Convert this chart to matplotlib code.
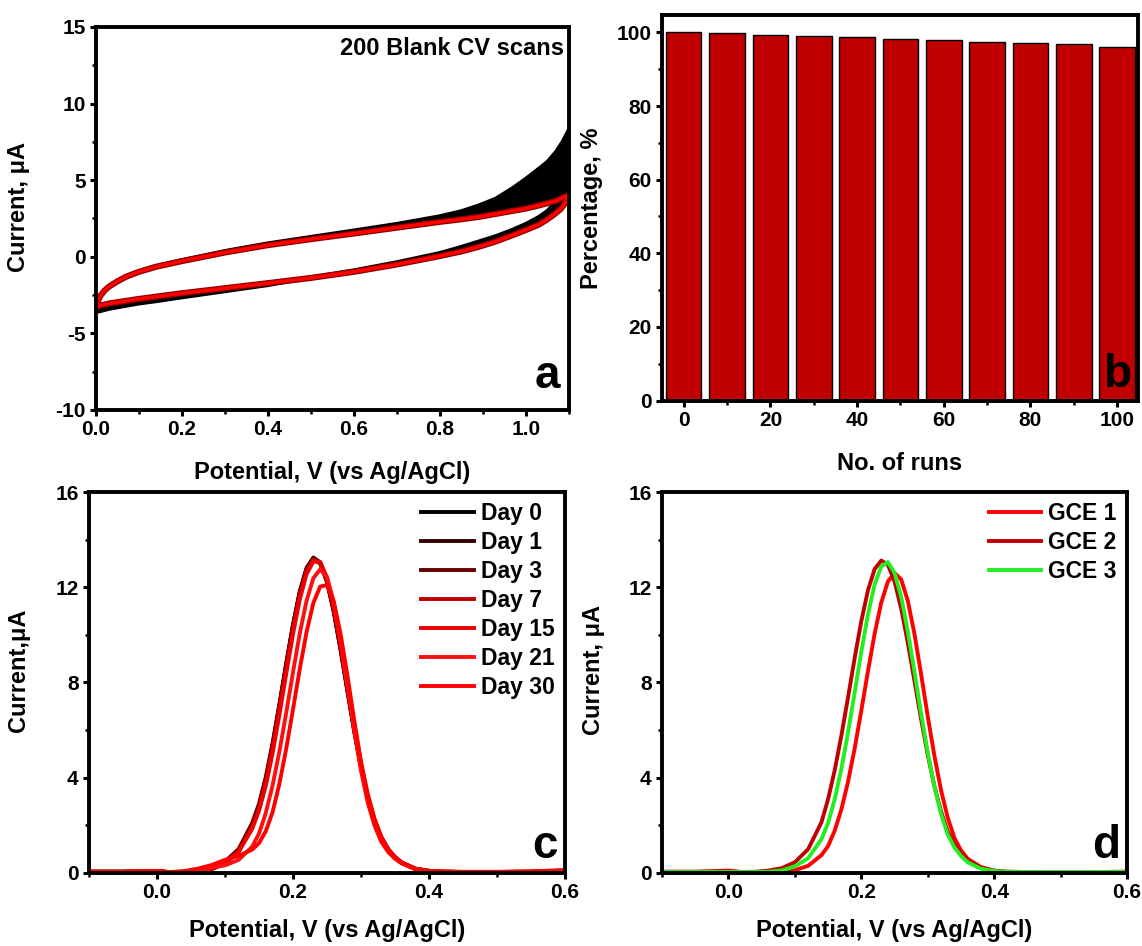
import matplotlib
matplotlib.use("Agg")
import matplotlib.pyplot as plt
from matplotlib.ticker import MultipleLocator

plt.rcParams['font.family'] = ['Liberation Sans', 'DejaVu Sans']
plt.rcParams['font.weight'] = 'bold'
plt.rcParams['axes.unicode_minus'] = False

# ----------------------------------------------------------------------------------------------------------------------
# (a) 200 blank CV scans: first scan (black) and last scan (red) -------------------------------------------------------
cv_fwd_v = [0.0, 0.005, 0.01, 0.02, 0.03, 0.05, 0.07, 0.10, 0.14, 0.20, 0.25, 0.30, 0.35, 0.40, 0.50,
            0.60, 0.70, 0.80, 0.85, 0.89, 0.93, 0.97, 1.00, 1.03, 1.05, 1.07, 1.085, 1.10]
cv_first_fwd = [-3.5, -2.95, -2.6, -2.2, -1.95, -1.6, -1.28, -0.95, -0.6, -0.22, 0.08, 0.38, 0.63, 0.88, 1.3,
                1.72, 2.15, 2.65, 2.98, 3.35, 3.8, 4.5, 5.1, 5.75, 6.2, 6.85, 7.5, 8.3]
cv_last_fwd = [-3.3, -2.85, -2.55, -2.2, -1.95, -1.6, -1.3, -0.98, -0.65, -0.28, 0.0, 0.28, 0.52, 0.76, 1.15,
               1.52, 1.9, 2.28, 2.45, 2.6, 2.8, 3.0, 3.15, 3.35, 3.5, 3.65, 3.85, 4.05]

cv_rev_v = [1.10, 1.095, 1.09, 1.08, 1.065, 1.05, 1.03, 1.00, 0.97, 0.93, 0.89, 0.85, 0.80, 0.70, 0.60,
            0.50, 0.40, 0.30, 0.20, 0.14, 0.10, 0.06, 0.03, 0.01, 0.0]
cv_first_rev = [8.3, 6.0, 5.0, 4.05, 3.45, 3.0, 2.6, 2.15, 1.78, 1.35, 1.0, 0.65, 0.25, -0.35, -0.88,
                -1.35, -1.85, -2.25, -2.65, -2.9, -3.05, -3.25, -3.4, -3.55, -3.6]
cv_last_rev = [4.05, 3.7, 3.45, 3.1, 2.75, 2.45, 2.1, 1.75, 1.42, 1.0, 0.65, 0.35, 0.05, -0.5, -0.98,
               -1.38, -1.72, -2.05, -2.38, -2.6, -2.75, -2.92, -3.05, -3.18, -3.3]

# ----------------------------------------------------------------------------------------------------------------------
# (b) repeatability ----------------------------------------------------------------------------------------------------
runs = [0, 10, 20, 30, 40, 50, 60, 70, 80, 90, 100]
percentage = [100.0, 99.7, 99.4, 99.0, 98.7, 98.3, 97.8, 97.4, 97.1, 96.8, 96.1]

# ----------------------------------------------------------------------------------------------------------------------
# (c) and (d) DPV curves -----------------------------------------------------------------------------------------------
dpv_v = [-0.10, -0.05, 0.00, 0.02, 0.04, 0.06, 0.08, 0.10, 0.12, 0.14, 0.15, 0.16, 0.17, 0.18, 0.19, 0.20,
         0.21, 0.22, 0.23, 0.24, 0.25, 0.26, 0.27, 0.28, 0.29, 0.30, 0.31, 0.32, 0.33, 0.34, 0.35, 0.36,
         0.38, 0.40, 0.42, 0.45, 0.50, 0.55, 0.60]

day_labels = ["Day 0", "Day 1", "Day 3", "Day 7", "Day 15", "Day 21", "Day 30"]
day_colors = ["#000000", "#330000", "#6b0000", "#c00000", "#ee0000", "#ff1010", "#ff0000"]
day_0 = [0.05, 0.05, 0.08, 0.03, 0.04, 0.07, 0.15, 0.40, 0.90, 1.95, 2.75, 3.88, 5.32, 6.97, 8.70, 10.36,
         11.77, 12.76, 13.19, 13.00, 12.23, 10.97, 9.38, 7.66, 5.96, 4.43, 3.13, 2.15, 1.45, 0.98, 0.65, 0.42,
         0.17, 0.08, 0.05, 0.04, 0.03, 0.04, 0.08]
day_1 = [0.05, 0.05, 0.07, 0.03, 0.04, 0.08, 0.17, 0.43, 0.93, 2.00, 2.80, 3.93, 5.38, 7.03, 8.76, 10.42,
         11.83, 12.82, 13.25, 13.05, 12.27, 11.00, 9.40, 7.68, 5.98, 4.45, 3.15, 2.17, 1.47, 0.99, 0.66, 0.43,
         0.18, 0.08, 0.05, 0.04, 0.03, 0.04, 0.09]
day_3 = [0.05, 0.05, 0.08, 0.03, 0.05, 0.09, 0.20, 0.48, 1.00, 2.10, 2.90, 4.02, 5.45, 7.08, 8.78, 10.40,
         11.78, 12.75, 13.18, 13.02, 12.28, 11.05, 9.48, 7.76, 6.05, 4.50, 3.20, 2.20, 1.49, 1.00, 0.67, 0.44,
         0.18, 0.09, 0.05, 0.04, 0.03, 0.05, 0.09]
day_7 = [0.05, 0.05, 0.08, 0.03, 0.04, 0.08, 0.16, 0.41, 0.90, 1.93, 2.72, 3.83, 5.25, 6.88, 8.60, 10.25,
         11.68, 12.70, 13.16, 13.03, 12.30, 11.07, 9.50, 7.78, 6.08, 4.52, 3.20, 2.20, 1.48, 0.99, 0.66, 0.43,
         0.17, 0.08, 0.05, 0.04, 0.03, 0.04, 0.09]
day_15 = [0.05, 0.05, 0.08, 0.03, 0.04, 0.08, 0.17, 0.42, 0.88, 1.85, 2.60, 3.65, 5.02, 6.63, 8.35, 10.02,
          11.48, 12.55, 13.08, 13.06, 12.42, 11.25, 9.70, 7.98, 6.25, 4.67, 3.32, 2.28, 1.52, 1.01, 0.67, 0.44,
          0.18, 0.09, 0.06, 0.04, 0.04, 0.05, 0.10]
day_21 = [0.05, 0.05, 0.07, 0.03, 0.05, 0.12, 0.22, 0.32, 0.55, 1.10, 1.65, 2.52, 3.67, 5.09, 6.71, 8.42,
          10.06, 11.43, 12.38, 12.75, 12.43, 11.39, 9.80, 7.93, 6.02, 4.30, 2.95, 1.98, 1.30, 0.88, 0.60, 0.40,
          0.16, 0.08, 0.05, 0.04, 0.04, 0.06, 0.11]
day_30 = [0.05, 0.05, 0.08, 0.04, 0.08, 0.18, 0.33, 0.55, 0.72, 0.98, 1.25, 1.75, 2.55, 3.74, 5.20, 6.86,
          8.56, 10.12, 11.34, 12.03, 12.09, 11.39, 10.05, 8.31, 6.43, 4.66, 3.16, 2.10, 1.38, 0.92, 0.62, 0.42,
          0.17, 0.09, 0.06, 0.05, 0.05, 0.07, 0.12]
day_curves = [day_0, day_1, day_3, day_7, day_15, day_21, day_30]

gce_labels = ["GCE 1", "GCE 2", "GCE 3"]
gce_colors = ["#ff0000", "#c00000", "#22ee22"]
gce_1 = [0.05, 0.05, 0.10, 0.04, 0.04, 0.04, 0.04, 0.12, 0.30, 0.75, 1.13, 1.78, 2.67, 3.83, 5.23, 6.82,
         8.47, 10.04, 11.35, 12.24, 12.60, 12.33, 11.43, 10.04, 8.35, 6.58, 4.92, 3.48, 2.33, 1.48, 0.95, 0.60,
         0.25, 0.10, 0.05, 0.04, 0.04, 0.04, 0.05]
gce_2 = [0.05, 0.05, 0.06, 0.04, 0.05, 0.10, 0.20, 0.45, 1.00, 2.13, 3.10, 4.32, 5.77, 7.37, 9.03, 10.58,
         11.87, 12.76, 13.12, 12.95, 12.25, 11.11, 9.67, 8.07, 6.46, 4.96, 3.65, 2.58, 1.75, 1.20, 0.80, 0.52,
         0.22, 0.09, 0.05, 0.04, 0.04, 0.04, 0.05]
gce_3 = [0.04, 0.04, 0.04, 0.04, 0.04, 0.05, 0.10, 0.28, 0.62, 1.42, 2.10, 3.10, 4.38, 5.90, 7.58, 9.29,
         10.86, 12.11, 12.87, 13.06, 12.61, 11.60, 10.15, 8.46, 6.70, 5.06, 3.63, 2.48, 1.62, 1.08, 0.72, 0.45,
         0.18, 0.08, 0.05, 0.04, 0.04, 0.04, 0.05]
gce_curves = [gce_1, gce_2, gce_3]

TICK_FS = 15
LABEL_FS = 17
LEGEND_FS = 16.5
LETTER_FS = 33


def style_axes(ax):
    for s in ax.spines.values():
        s.set_linewidth(2.8)
    ax.tick_params(which='major', direction='out', length=4.5, width=2.2, labelsize=TICK_FS, pad=3)
    ax.tick_params(which='minor', direction='out', length=2.6, width=1.8)
    for lab in ax.get_xticklabels() + ax.get_yticklabels():
        lab.set_fontweight('bold')


def add_legend(ax):
    ax.legend(loc='upper right', bbox_to_anchor=(1.0, 1.0), frameon=False, fontsize=LEGEND_FS,
              handlelength=2.3, handletextpad=0.3, labelspacing=0.26, borderaxespad=0.0, borderpad=0.45)


fig = plt.figure(figsize=(11.42, 9.46), dpi=100)

# ----------------------------------------------------------------------------------------------------------------------
# Панель a -------------------------------------------------------------------------------------------------------------
ax_a = fig.add_axes([0.0841, 0.5666, 0.4141, 0.4049])
ax_a.fill_between(cv_fwd_v, cv_last_fwd, cv_first_fwd, color='black', lw=0)
ax_a.fill_between(cv_rev_v, cv_last_rev, cv_first_rev, color='black', lw=0)
ax_a.plot(cv_fwd_v + cv_rev_v, cv_first_fwd + cv_first_rev, color='black', lw=2.8)
ax_a.plot(cv_fwd_v + cv_rev_v, cv_last_fwd + cv_last_rev, color='#8b0000', lw=4.4, solid_capstyle='round')
ax_a.plot(cv_fwd_v + cv_rev_v, cv_last_fwd + cv_last_rev, color='#ff0000', lw=2.6, solid_capstyle='round')
ax_a.set_xlim(0, 1.1)
ax_a.set_ylim(-10, 15)
ax_a.set_xticks([0.0, 0.2, 0.4, 0.6, 0.8, 1.0])
ax_a.set_xticklabels(["0.0", "0.2", "0.4", "0.6", "0.8", "1.0"])
ax_a.set_yticks([-10, -5, 0, 5, 10, 15])
ax_a.xaxis.set_minor_locator(MultipleLocator(0.1))
ax_a.yaxis.set_minor_locator(MultipleLocator(2.5))
style_axes(ax_a)
ax_a.set_xlabel("Potential, V (vs Ag/AgCl)", fontsize=LABEL_FS, fontweight='bold')
ax_a.set_ylabel("Current, μA", fontsize=LABEL_FS, fontweight='bold')
ax_a.xaxis.set_label_coords(0.5, -0.132)
ax_a.yaxis.set_label_coords(-0.139, 0.53)
ax_a.text(0.989, 0.927, "200 Blank CV scans", transform=ax_a.transAxes, ha='right', va='baseline',
          fontsize=17, fontweight='bold')
ax_a.text(0.981, 0.057, "a", transform=ax_a.transAxes, ha='right', va='baseline',
          fontsize=LETTER_FS, fontweight='bold')

# ----------------------------------------------------------------------------------------------------------------------
# Панель b -------------------------------------------------------------------------------------------------------------
ax_b = fig.add_axes([0.5797, 0.5765, 0.4168, 0.4076])
ax_b.bar(runs, percentage, width=8.2, color='#c00000', edgecolor='black', linewidth=1.0)
ax_b.set_xlim(-5, 104.8)
ax_b.set_ylim(0, 104.7)
ax_b.set_xticks([0, 20, 40, 60, 80, 100])
ax_b.set_yticks([0, 20, 40, 60, 80, 100])
ax_b.xaxis.set_minor_locator(MultipleLocator(10))
ax_b.yaxis.set_minor_locator(MultipleLocator(10))
style_axes(ax_b)
ax_b.set_xlabel("No. of runs", fontsize=LABEL_FS, fontweight='bold')
ax_b.set_ylabel("Percentage, %", fontsize=LABEL_FS, fontweight='bold')
ax_b.xaxis.set_label_coords(0.5, -0.132)
ax_b.yaxis.set_label_coords(-0.124, 0.50)
ax_b.text(0.987, 0.036, "b", transform=ax_b.transAxes, ha='right', va='baseline',
          fontsize=LETTER_FS, fontweight='bold')

# ----------------------------------------------------------------------------------------------------------------------
# Панель c -------------------------------------------------------------------------------------------------------------
ax_c = fig.add_axes([0.0779, 0.0772, 0.4168, 0.4027])
for lab, col, cur in zip(day_labels, day_colors, day_curves):
    ax_c.plot(dpv_v, cur, color=col, lw=2.8, label=lab)
ax_c.set_xlim(-0.1, 0.6)
ax_c.set_ylim(0, 16)
ax_c.set_xticks([0.0, 0.2, 0.4, 0.6])
ax_c.set_xticklabels(["0.0", "0.2", "0.4", "0.6"])
ax_c.set_yticks([0, 4, 8, 12, 16])
ax_c.xaxis.set_minor_locator(MultipleLocator(0.1))
ax_c.yaxis.set_minor_locator(MultipleLocator(2))
style_axes(ax_c)
ax_c.set_xlabel("Potential, V (vs Ag/AgCl)", fontsize=LABEL_FS, fontweight='bold')
ax_c.set_ylabel("Current,μA", fontsize=LABEL_FS, fontweight='bold')
ax_c.xaxis.set_label_coords(0.5, -0.122)
ax_c.yaxis.set_label_coords(-0.124, 0.533)
add_legend(ax_c)
ax_c.text(0.985, 0.039, "c", transform=ax_c.transAxes, ha='right', va='baseline',
          fontsize=LETTER_FS, fontweight='bold')

# ----------------------------------------------------------------------------------------------------------------------
# Панель d -------------------------------------------------------------------------------------------------------------
ax_d = fig.add_axes([0.5797, 0.0772, 0.4072, 0.4027])
for lab, col, cur in zip(gce_labels, gce_colors, gce_curves):
    ax_d.plot(dpv_v, cur, color=col, lw=2.8, label=lab)
ax_d.set_xlim(-0.1, 0.6)
ax_d.set_ylim(0, 16)
ax_d.set_xticks([0.0, 0.2, 0.4, 0.6])
ax_d.set_xticklabels(["0.0", "0.2", "0.4", "0.6"])
ax_d.set_yticks([0, 4, 8, 12, 16])
ax_d.xaxis.set_minor_locator(MultipleLocator(0.1))
ax_d.yaxis.set_minor_locator(MultipleLocator(2))
style_axes(ax_d)
ax_d.set_xlabel("Potential, V (vs Ag/AgCl)", fontsize=LABEL_FS, fontweight='bold')
ax_d.set_ylabel("Current, μA", fontsize=LABEL_FS, fontweight='bold')
ax_d.xaxis.set_label_coords(0.5, -0.122)
ax_d.yaxis.set_label_coords(-0.123, 0.533)
add_legend(ax_d)
ax_d.text(0.985, 0.039, "d", transform=ax_d.transAxes, ha='right', va='baseline',
          fontsize=LETTER_FS, fontweight='bold')

fig.savefig("out.png", dpi=100)
